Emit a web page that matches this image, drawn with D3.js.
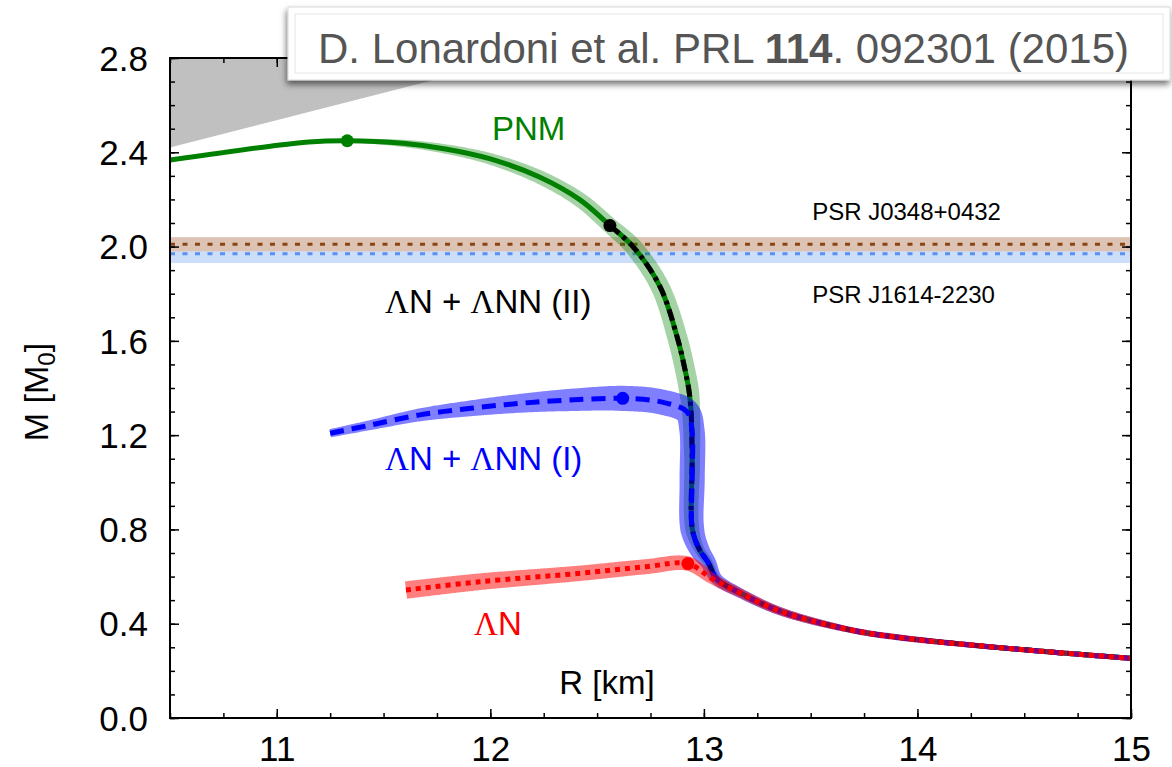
<!DOCTYPE html>
<html><head><meta charset="utf-8">
<script src="https://cdn.jsdelivr.net/npm/d3@7"></script>
<style>
body { margin: 0; background: #fff; }
svg { display: block; }
text { font-family: "Liberation Sans", Arial, Helvetica, sans-serif; }
</style>
</head>
<body>
<svg id="chart"></svg>
<script>
// ---- data ----
const rTicks = [11, 12, 13, 14, 15];
const mTicks = [0.0, 0.4, 0.8, 1.2, 1.6, 2.0, 2.4, 2.8];

// causality limit region
const causalR = [10.5, 12.14, 10.5];
const causalM = [2.42, 2.8, 2.8];

// pulsar masses
const psrNames = ["PSR J0348+0432", "PSR J1614-2230"];
const psrMass = [2.01, 1.97];
const psrErr = [0.03, 0.04];

// PNM
const pnmR = [10.5, 10.97, 11.15, 11.33, 11.59, 11.79, 12.0, 12.23, 12.42, 12.56, 12.67, 12.795, 12.875, 12.912, 12.93, 12.94, 12.945, 12.946, 12.98, 13.02, 13.06, 13.17, 13.36, 13.69, 13.92, 14.39, 15.0];
const pnmM = [2.367, 2.426, 2.444, 2.449, 2.438, 2.414, 2.372, 2.295, 2.198, 2.089, 1.998, 1.829, 1.616, 1.476, 1.39, 1.30, 1.10, 0.80, 0.713, 0.66, 0.59, 0.53, 0.452, 0.373, 0.341, 0.298, 0.253];
const pnmErr = [0, 0, 0, 0.007, 0.017, 0.022, 0.027, 0.032, 0.035, 0.037, 0.042, 0.044, 0.047, 0.047, 0.047, 0.042, 0.037, 0.033, 0.023, 0.021, 0.019, 0.016, 0.014, 0.012, 0.012, 0.009, 0.009];

// ΛN + ΛNN (II)
const hyp2R = [12.56, 12.67, 12.795, 12.875, 12.912, 12.93, 12.94, 12.945, 12.946, 12.98, 13.02, 13.06, 13.17, 13.36, 13.69, 13.92, 14.39, 15.0];
const hyp2M = [2.089, 1.998, 1.829, 1.616, 1.476, 1.39, 1.30, 1.10, 0.80, 0.713, 0.66, 0.59, 0.53, 0.452, 0.373, 0.341, 0.298, 0.253];

// ΛN + ΛNN (I)
const hyp1R = [11.25, 11.44, 11.67, 11.91, 12.14, 12.37, 12.62, 12.80, 12.92, 12.944, 12.945, 12.946, 12.98, 13.02, 13.06, 13.17, 13.36, 13.69, 13.92, 14.39, 15.0];
const hyp1M = [1.208, 1.243, 1.286, 1.314, 1.335, 1.349, 1.356, 1.341, 1.300, 1.222, 1.01, 0.80, 0.713, 0.66, 0.59, 0.53, 0.452, 0.373, 0.341, 0.298, 0.253];
const hyp1Err = [0.019, 0.023, 0.030, 0.037, 0.044, 0.052, 0.059, 0.059, 0.059, 0.059, 0.059, 0.056, 0.047, 0.037, 0.028, 0.023, 0.019, 0.014, 0.014, 0.012, 0.012];

// ΛN
const lamR = [11.605, 11.95, 12.42, 12.73, 12.925, 13.04, 13.17, 13.36, 13.69, 13.92, 14.39, 15.0];
const lamM = [0.543, 0.578, 0.614, 0.642, 0.655, 0.59, 0.53, 0.452, 0.373, 0.341, 0.298, 0.253];
const lamErr = [0.041, 0.039, 0.036, 0.035, 0.034, 0.025, 0.021, 0.019, 0.014, 0.014, 0.012, 0.012];

// maximum mass points
const maxR = [11.33, 12.56, 12.62, 12.925];
const maxM = [2.449, 2.089, 1.356, 0.655];
const maxColors = ["#008000", "#000000", "#0000ff", "#ff0000"];

// ---- layout ----
const width = 1172, height = 767;
const svg = d3.select("#chart").attr("width", width).attr("height", height);

const x = d3.scaleLinear().domain([10.5, 15]).range([170, 1131]);
const y = d3.scaleLinear().domain([0, 2.8]).range([718, 58]);

svg.append("defs").append("clipPath").attr("id", "plotclip")
  .append("rect").attr("x", 170).attr("y", 58).attr("width", 961).attr("height", 660);

const plot = svg.append("g").attr("clip-path", "url(#plotclip)");

const curve = d3.line().curve(d3.curveCatmullRom.alpha(0.5));
const toPts = (R, M) => R.map((r, i) => [x(r), y(M[i])]);

// variable width band around a curve (err in km, applied normal to the curve)
function bandPath(R, M, err) {
  const pts = toPts(R, M);
  const tmp = svg.append("path").attr("d", curve(pts)).attr("fill", "none");
  const node = tmp.node();
  const L = node.getTotalLength();
  const cum = [0];
  for (let i = 1; i < pts.length; i++) {
    cum.push(cum[i - 1] + Math.hypot(pts[i][0] - pts[i - 1][0], pts[i][1] - pts[i - 1][1]));
  }
  const total = cum[cum.length - 1];
  const w = d3.scaleLinear()
    .domain(cum.map(c => c / total * L))
    .range(err.map(e => x(10.5 + e) - x(10.5)));
  const left = [], right = [];
  for (let s = 0; s <= L + 0.01; s += 1.5) {
    const ss = Math.min(s, L);
    const p = node.getPointAtLength(ss);
    const a = node.getPointAtLength(Math.max(ss - 1.5, 0));
    const b = node.getPointAtLength(Math.min(ss + 1.5, L));
    let tx = b.x - a.x, ty = b.y - a.y;
    const n = Math.hypot(tx, ty) || 1;
    tx /= n; ty /= n;
    const hw = w(ss);
    left.push([p.x - ty * hw, p.y + tx * hw]);
    right.push([p.x + ty * hw, p.y - tx * hw]);
  }
  tmp.remove();
  return "M" + left.concat(right.reverse()).map(p => p[0].toFixed(2) + "," + p[1].toFixed(2)).join("L") + "Z";
}

// causality region
plot.append("path")
  .attr("d", d3.line()(toPts(causalR, causalM)) + "Z")
  .attr("fill", "#c0c0c0");

// pulsar bands (blue first, brown on top)
const psrBand = ["#dcc3b4", "#cddefa"];
const psrLine = ["#8b4513", "#5b8ff0"];
[1, 0].forEach(i => {
  plot.append("rect")
    .attr("x", x(10.5)).attr("width", x(15) - x(10.5))
    .attr("y", y(psrMass[i] + psrErr[i]))
    .attr("height", y(psrMass[i] - psrErr[i]) - y(psrMass[i] + psrErr[i]))
    .attr("fill", psrBand[i]);
});
[0, 1].forEach(i => {
  plot.append("line")
    .attr("x1", x(10.5)).attr("x2", x(15))
    .attr("y1", y(psrMass[i])).attr("y2", y(psrMass[i]))
    .attr("stroke", psrLine[i]).attr("stroke-width", 3)
    .attr("stroke-dasharray", "5,7.5");
});
svg.append("text").attr("x", x(13.507)).attr("y", y(2.113))
  .attr("font-size", 24).attr("fill", "#000").text(psrNames[0]);
svg.append("text").attr("x", x(13.507)).attr("y", y(1.761))
  .attr("font-size", 24).attr("fill", "#000").text(psrNames[1]);

// PNM
plot.append("path").attr("d", bandPath(pnmR, pnmM, pnmErr))
  .attr("fill", "rgba(0,128,0,0.35)");
plot.append("path").attr("d", curve(toPts(pnmR, pnmM)))
  .attr("fill", "none").attr("stroke", "#008000").attr("stroke-width", 5);

// ΛN + ΛNN (II)
plot.append("path").attr("d", curve(toPts(hyp2R, hyp2M)))
  .attr("fill", "none").attr("stroke", "#000").attr("stroke-width", 5)
  .attr("stroke-dasharray", "12,5,4,5");

// ΛN + ΛNN (I)
plot.append("path").attr("d", bandPath(hyp1R, hyp1M, hyp1Err))
  .attr("fill", "rgba(0,0,255,0.5)");
plot.append("path").attr("d", curve(toPts(hyp1R, hyp1M)))
  .attr("fill", "none").attr("stroke", "#0000ff").attr("stroke-width", 5)
  .attr("stroke-dasharray", "14,8");

// ΛN
plot.append("path").attr("d", bandPath(lamR, lamM, lamErr))
  .attr("fill", "rgba(255,0,0,0.5)");
plot.append("path").attr("d", curve(toPts(lamR, lamM)))
  .attr("fill", "none").attr("stroke", "#ff0000").attr("stroke-width", 5)
  .attr("stroke-dasharray", "5,5");

// max mass points
plot.selectAll("circle.max").data(maxR).enter().append("circle")
  .attr("cx", d => x(d)).attr("cy", (d, i) => y(maxM[i]))
  .attr("r", 6.5).attr("fill", (d, i) => maxColors[i]);

// series labels (Λ in a serif face)
function label(txt, r, m, color) {
  const t = svg.append("text").attr("x", x(r)).attr("y", y(m))
    .attr("font-size", 33).attr("fill", color);
  txt.split(/(Λ)/).filter(s => s.length).forEach(s => {
    const ts = t.append("tspan").text(s);
    if (s === "Λ") ts.style("font-family", '"Liberation Serif", "Times New Roman", serif');
  });
}
label("PNM", 12.008, 2.452, "#008000");
label("ΛN + ΛNN (II)", 11.507, 1.718, "#000");
label("ΛN + ΛNN (I)", 11.507, 1.054, "#0000ff");
label("ΛN", 11.924, 0.352, "#ff0000");

// ---- axes ----
const xMinor = d3.range(10.5, 15.001, 0.25).map(v => +v.toFixed(2));
const yMinor = d3.range(0, 2.801, 0.1).map(v => +v.toFixed(1));

function ticks(axis, tr) {
  const g = svg.append("g").attr("transform", tr).call(axis);
  g.select(".domain").remove();
  g.selectAll("line").attr("stroke", "#000").attr("stroke-width", 1.5);
  return g;
}
// minor ticks
ticks(d3.axisBottom(x).tickValues(xMinor).tickSize(-5).tickFormat(""), "translate(0,718)");
ticks(d3.axisTop(x).tickValues(xMinor).tickSize(-5).tickFormat(""), "translate(0,58)");
ticks(d3.axisLeft(y).tickValues(yMinor).tickSize(-5).tickFormat(""), "translate(170,0)");
ticks(d3.axisRight(y).tickValues(yMinor).tickSize(-5).tickFormat(""), "translate(1131,0)");
// major ticks
const xb = ticks(d3.axisBottom(x).tickValues(rTicks).tickSize(-9).tickFormat(d3.format("d")), "translate(0,718)");
ticks(d3.axisTop(x).tickValues(rTicks).tickSize(-9).tickFormat(""), "translate(0,58)");
const yl = ticks(d3.axisLeft(y).tickValues(mTicks).tickSize(-9).tickFormat(d3.format(".1f")), "translate(170,0)");
ticks(d3.axisRight(y).tickValues(mTicks).tickSize(-9).tickFormat(""), "translate(1131,0)");

xb.selectAll("text").attr("y", 43).attr("dy", null)
  .attr("font-size", 35).attr("fill", "#000")
  .style("font-family", '"Liberation Sans", Arial, sans-serif');
yl.selectAll("text").attr("x", -22).attr("dy", "0.35em")
  .attr("font-size", 35).attr("fill", "#000")
  .style("font-family", '"Liberation Sans", Arial, sans-serif');

// frame
svg.append("rect").attr("x", 170).attr("y", 58).attr("width", 961).attr("height", 660)
  .attr("fill", "none").attr("stroke", "#000").attr("stroke-width", 2);

// axis titles
svg.append("text").attr("x", 607).attr("y", 694).attr("text-anchor", "middle")
  .attr("font-size", 33).attr("fill", "#000").text("R [km]");
const yt = svg.append("text").attr("transform", "translate(48,392) rotate(-90)")
  .attr("text-anchor", "middle").attr("font-size", 34).attr("fill", "#000");
yt.append("tspan").text("M [M");
yt.append("tspan").attr("font-size", 24).attr("dy", 7).text("0");
yt.append("tspan").attr("dy", -7).text("]");

// reference box
const defs = svg.select("defs");
const f = defs.append("filter").attr("id", "shadow")
  .attr("x", "-5%").attr("y", "-20%").attr("width", "110%").attr("height", "160%");
f.append("feDropShadow").attr("dx", -1).attr("dy", 4).attr("stdDeviation", 3)
  .attr("flood-color", "#000").attr("flood-opacity", 0.55);
svg.append("rect").attr("x", 288).attr("y", 7).attr("width", 882).attr("height", 73)
  .attr("fill", "#fff").attr("stroke", "#d8d8d8").attr("stroke-width", 1)
  .attr("filter", "url(#shadow)");
svg.append("rect").attr("x", 295).attr("y", 14).attr("width", 868).attr("height", 59)
  .attr("fill", "none").attr("stroke", "#e6e6e6").attr("stroke-width", 1);
const ref = svg.append("text").attr("x", 318).attr("y", 63)
  .attr("font-size", 42).attr("fill", "#555");
ref.append("tspan").text("D. Lonardoni et al. PRL ");
ref.append("tspan").attr("font-weight", "bold").text("114");
ref.append("tspan").text(". 092301 (2015)");
</script>
</body></html>
